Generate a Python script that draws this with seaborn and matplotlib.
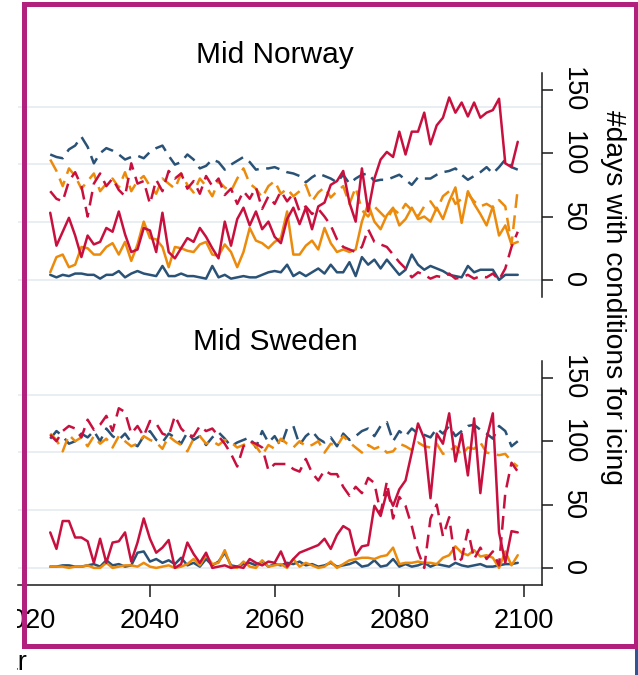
import matplotlib
matplotlib.use("Agg")
import matplotlib.pyplot as plt
import pandas as pd
import seaborn as sns
from matplotlib.patches import Rectangle

# ---------------------------------------------------------------- data
years = list(range(2024, 2100))
regions = ["Mid Norway", "Mid Sweden"]
scenarios = ["S1", "S2", "S3"]          # blue, orange, red
variants = ["solid", "dashed"]
y_ticks = [0, 50, 100, 150]
x_ticks = [2020, 2040, 2060, 2080, 2100]
y_label = "#days with conditions for icing"
x_label = "Year"

# Mid Norway
no_s1_solid = [4, 2, 4, 3, 5, 5, 4, 4, 1, 4,
               4, 7, 2, 5, 7, 5, 4, 3, 11, 3,
               3, 5, 3, 3, 2, 1, 11, 2, 4, 1,
               2, 3, 2, 2, 4, 6, 7, 6, 12, 3,
               6, 3, 6, 9, 5, 12, 6, 6, 14, 3,
               18, 12, 16, 9, 16, 10, 4, 8, 20, 12,
               8, 11, 9, 7, 4, 3, 2, 11, 6, 8,
               8, 8, 0, 4, 4, 4]
no_s1_dashed = [99, 97, 96, 103, 106, 113, 105, 92, 100, 104,
                102, 99, 95, 97, 98, 96, 101, 104, 106, 98,
                91, 93, 99, 95, 88, 90, 95, 93, 87, 91,
                94, 97, 93, 87, 88, 88, 89, 87, 85, 84,
                82, 77, 81, 84, 82, 80, 77, 83, 76, 80,
                83, 84, 78, 79, 79, 81, 83, 79, 75, 81,
                80, 80, 83, 85, 86, 88, 83, 79, 82, 85,
                89, 84, 89, 95, 89, 87]
no_s2_solid = [6, 18, 20, 10, 12, 26, 25, 20, 20, 26,
               29, 20, 30, 15, 28, 46, 33, 32, 26, 10,
               26, 25, 23, 22, 28, 30, 20, 19, 28, 22,
               10, 22, 41, 31, 29, 25, 30, 33, 54, 20,
               20, 27, 31, 24, 41, 29, 22, 24, 22, 24,
               46, 60, 46, 40, 51, 57, 43, 48, 57, 48,
               50, 46, 57, 48, 62, 73, 45, 70, 60, 52,
               43, 58, 35, 43, 28, 30]
no_s2_dashed = [95, 86, 74, 88, 82, 72, 78, 84, 70, 76,
                80, 73, 85, 70, 78, 82, 74, 68, 80, 76,
                72, 84, 75, 69, 80, 74, 66, 78, 73, 70,
                80, 88, 76, 72, 65, 74, 78, 68, 72, 66,
                70, 75, 62, 69, 73, 65, 70, 74, 60, 73,
                55, 50, 58, 53, 48, 56, 52, 60, 55, 50,
                58, 62, 55, 66, 70, 60, 64, 68, 62, 58,
                60, 57, 63, 58, 28, 72]
no_s3_solid = [53, 27, 38, 49, 35, 18, 35, 28, 30, 41,
               38, 54, 36, 22, 24, 41, 39, 22, 53, 22,
               17, 25, 33, 30, 41, 34, 25, 17, 46, 27,
               48, 57, 43, 54, 40, 46, 34, 29, 48, 57,
               44, 57, 40, 58, 61, 75, 78, 86, 61, 46,
               88, 54, 80, 95, 101, 97, 117, 99, 117, 117,
               132, 107, 122, 128, 144, 132, 140, 129, 140, 128,
               132, 134, 143, 92, 89, 109]
no_s3_dashed = [70, 64, 62, 78, 85, 74, 50, 76, 84, 74,
                80, 71, 66, 92, 76, 78, 60, 79, 70, 86,
                80, 84, 72, 78, 68, 82, 74, 80, 67, 72,
                60, 70, 64, 73, 56, 66, 60, 70, 62, 68,
                54, 58, 52, 56, 50, 43, 32, 26, 24, 22,
                26, 40, 30, 28, 26, 20, 14, 9, 2, 6,
                4, 1, 3, 2, 5, 1, 2, 4, 1, 3,
                2, 5, 0, 9, 26, 38]

# Mid Sweden
se_s1_solid = [1, 1, 2, 2, 1, 1, 2, 3, 1, 6,
               2, 3, 1, 2, 12, 13, 5, 7, 4, 6,
               3, 8, 2, 4, 1, 7, 2, 5, 12, 2,
               1, 3, 4, 2, 5, 1, 3, 2, 4, 3,
               5, 2, 3, 1, 2, 4, 1, 2, 3, 5,
               1, 2, 6, 1, 2, 7, 1, 3, 1, 2,
               4, 1, 3, 2, 1, 4, 2, 1, 2, 3,
               1, 1, 2, 3, 3, 4]
se_s1_dashed = [102, 108, 104, 98, 100, 106, 103, 108, 100, 110,
                104, 101, 106, 99, 96, 104, 108, 101, 99, 106,
                103, 98, 107, 101, 104, 97, 103, 107, 102, 96,
                99, 101, 103, 95, 108, 99, 104, 96, 110, 112,
                97, 104, 108, 102, 99, 103, 96, 106, 101, 104,
                108, 110, 104, 112, 115, 100, 108, 104, 110, 106,
                105, 103, 110, 106, 112, 104, 108, 112, 113, 109,
                106, 102, 112, 108, 96, 100]
se_s2_solid = [1, 1, 1, 0, 1, 1, 2, 0, 0, 4,
               0, 1, 2, 2, 1, 4, 1, 0, 1, 2,
               0, 1, 3, 7, 2, 10, 3, 4, 14, 1,
               0, 5, 1, 0, 6, 1, 2, 3, 0, 7,
               1, 4, 2, 0, 1, 5, 0, 3, 6, 7,
               8, 8, 7, 9, 10, 16, 3, 4, 4, 5,
               4, 4, 3, 8, 10, 17, 12, 10, 14, 9,
               10, 8, 0, 13, 2, 10]
se_s2_dashed = [106, 101, 92, 105, 100, 103, 96, 104, 98, 102,
                95, 104, 100, 96, 98, 104, 101, 99, 94, 104,
                100, 97, 92, 102, 104, 98, 100, 97, 101, 99,
                95, 97, 100, 96, 89, 97, 94, 102, 98, 95,
                100, 96, 97, 100, 91, 98, 96, 104, 99, 95,
                91, 97, 94, 96, 91, 92, 98, 96, 93, 99,
                96, 95, 98, 90, 92, 96, 89, 95, 94, 99,
                91, 90, 89, 90, 84, 80]
se_s3_solid = [28, 15, 37, 37, 24, 24, 21, 4, 23, 4,
               20, 21, 28, 5, 20, 39, 23, 12, 16, 22,
               0, 3, 20, 11, 4, 12, 0, 1, 2, 0,
               1, 0, 7, 4, 2, 5, 4, 13, 1, 7,
               12, 14, 16, 18, 23, 15, 26, 33, 30, 10,
               17, 18, 49, 41, 60, 49, 62, 69, 91, 114,
               102, 55, 106, 98, 122, 84, 106, 73, 118, 59,
               102, 122, 28, 4, 29, 28]
se_s3_dashed = [105, 100, 108, 112, 110, 103, 117, 109, 113, 120,
                108, 126, 123, 106, 112, 104, 116, 114, 106, 104,
                120, 110, 105, 104, 112, 108, 110, 104, 98, 90,
                80, 96, 100, 98, 95, 77, 82, 82, 82, 78,
                76, 86, 75, 69, 77, 74, 74, 64, 57, 64,
                59, 71, 67, 43, 68, 39, 56, 49, 33, 13,
                0, 39, 50, 25, 40, 4, 7, 30, 7, 16,
                7, 13, 2, 59, 83, 76]

series = {
    "Mid Norway": {("S1", "solid"): no_s1_solid, ("S1", "dashed"): no_s1_dashed,
                   ("S2", "solid"): no_s2_solid, ("S2", "dashed"): no_s2_dashed,
                   ("S3", "solid"): no_s3_solid, ("S3", "dashed"): no_s3_dashed},
    "Mid Sweden": {("S1", "solid"): se_s1_solid, ("S1", "dashed"): se_s1_dashed,
                   ("S2", "solid"): se_s2_solid, ("S2", "dashed"): se_s2_dashed,
                   ("S3", "solid"): se_s3_solid, ("S3", "dashed"): se_s3_dashed},
}

rows = []
for region, block in series.items():
    for (scen, var), vals in block.items():
        for yr, v in zip(years, vals):
            rows.append({"region": region, "scenario": scen, "variant": var,
                         "year": yr, "days": v})
df = pd.DataFrame(rows)

# ---------------------------------------------------------------- style
sns.set_theme(style="white")
plt.rcParams["font.family"] = ["Liberation Sans", "DejaVu Sans"]

palette = {"S1": "#2a5276", "S2": "#ec8a0c", "S3": "#c8103f"}
dashes = {"solid": "", "dashed": (5.5, 3)}
grid_color = "#e6edf1"
axis_color = "#1a1a1a"

W, H = 638, 675
fig = plt.figure(figsize=(W / 100, H / 100), dpi=100)
fig.patch.set_facecolor("white")


def px_rect(x0, y0, x1, y1):
    return [x0 / W, 1 - y1 / H, (x1 - x0) / W, (y1 - y0) / H]


panel_boxes = {"Mid Norway": (18, 73, 542, 297), "Mid Sweden": (18, 361, 542, 585)}
title_baselines = {"Mid Norway": 63, "Mid Sweden": 350}

for i, region in enumerate(regions):
    box = panel_boxes[region]
    base = fig.add_axes(px_rect(*box))
    base.set_facecolor("white")
    base.set_xlim(2018.83, 2102.89)
    # hidden left scale that carries the light horizontal grid
    base.set_ylim(-14.8, 179)
    base.set_yticks(y_ticks)
    base.grid(axis="y", color=grid_color, lw=1.3)
    base.grid(axis="x", visible=False)
    for s in ["left", "top", "right"]:
        base.spines[s].set_visible(False)

    if i == len(regions) - 1:
        base.spines["bottom"].set_visible(True)
        base.spines["bottom"].set_color(axis_color)
        base.spines["bottom"].set_linewidth(1.1)
        base.set_xticks(x_ticks)
        base.tick_params(axis="x", bottom=True, length=8.6, width=1.1,
                         color=axis_color, labelsize=19.5, pad=8,
                         labelcolor="black")
    else:
        base.spines["bottom"].set_visible(False)
        base.tick_params(axis="x", bottom=False, labelbottom=False)
    base.set_xlabel("")

    ax = base.twinx()
    base.tick_params(axis="y", left=False, right=False, labelleft=False,
                     labelright=False)
    sub = df[df["region"] == region]
    sns.lineplot(data=sub, x="year", y="days", hue="scenario", style="variant",
                 palette=palette, dashes=dashes, hue_order=scenarios,
                 style_order=variants, lw=1.8, legend=False, ax=ax,
                 estimator=None, sort=True)
    ax.set_xlim(2018.83, 2102.89)
    ax.set_ylim(-13.5, 163.3)
    ax.set_yticks(y_ticks)
    ax.set_yticklabels([str(t) for t in y_ticks])
    ax.tick_params(axis="y", right=True, left=False, labelright=True,
                   labelleft=False, length=8, width=1.1, color=axis_color,
                   labelsize=19.5, pad=5, labelcolor="black")
    for t in ax.get_yticklabels():
        t.set_rotation(270)
        t.set_va("center")
    ax.set_ylabel("")
    ax.set_xlabel("")
    ax.grid(False)
    for s in ["left", "top", "bottom"]:
        ax.spines[s].set_visible(False)
    ax.spines["right"].set_visible(True)
    ax.spines["right"].set_color(axis_color)
    ax.spines["right"].set_linewidth(1.1)

    fig.text(275 / W, 1 - title_baselines[region] / H, region,
             ha="center", va="baseline", fontsize=21.5, color="black")

# shared y label on the right
fig.text(613 / W, 1 - 298 / H, y_label, rotation=270, ha="center",
         va="center", fontsize=20.3, color="black")
# x label
fig.text(27 / W, 1 - 670 / H, x_label, ha="right", va="baseline",
         fontsize=19.5, color="black")

# white strip on the far left edge
fig.add_artist(Rectangle((0, 0), 17 / W, 1, transform=fig.transFigure,
                         facecolor="white", edgecolor="none", zorder=10))
# frame
fig.add_artist(Rectangle((24 / W, 1 - 645.5 / H), (635.5 - 24) / W,
                         (645.5 - 4) / H, transform=fig.transFigure,
                         fill=False, edgecolor="#b0207c", lw=3.6, zorder=11))
fig.add_artist(Rectangle((635 / W, 0), 3 / W, (675 - 649) / H,
                         transform=fig.transFigure, facecolor="#2d5597",
                         edgecolor="none", zorder=11))

fig.savefig("out.png", dpi=100, facecolor="white")
